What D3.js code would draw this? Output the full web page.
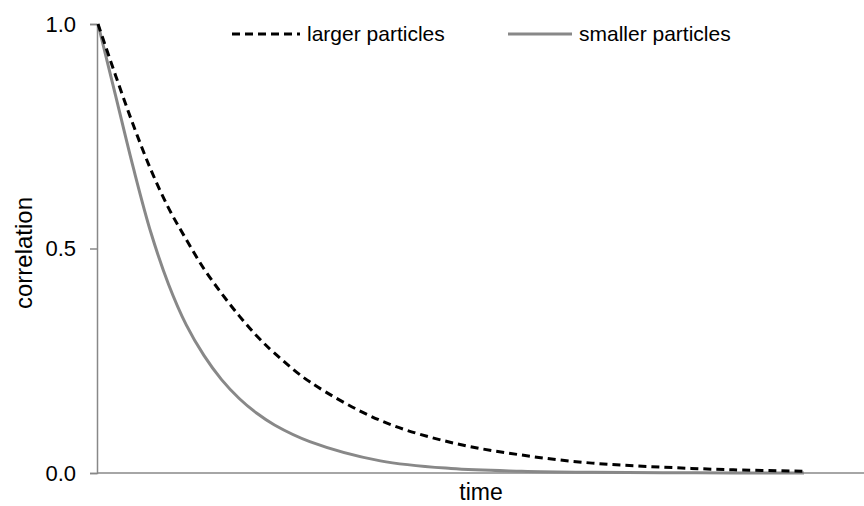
<!DOCTYPE html>
<html>
<head>
<meta charset="utf-8">
<script src="https://d3js.org/d3.v7.min.js"></script>
<style>
  body { margin: 0; background: #fff; }
  text { font-family: "Liberation Sans", Arial, sans-serif; }
</style>
</head>
<body>
<script>
// values (time in arbitrary units)
const time = [0, 0.25, 0.5, 0.75, 1, 1.25, 1.5, 1.75, 2, 2.25, 2.5, 3, 4, 5, 6, 7, 8, 9, 10];
const larger = [1.0, 0.885, 0.775, 0.675, 0.59, 0.52, 0.455, 0.4, 0.35, 0.305, 0.267, 0.203, 0.117, 0.068, 0.04, 0.022, 0.013, 0.007, 0.004];
const smaller = [1.0, 0.84, 0.68, 0.535, 0.42, 0.33, 0.262, 0.208, 0.166, 0.133, 0.107, 0.07, 0.027, 0.01, 0.004, 0.0015, 0.0005, 0.0002, 0.0];
const yTicks = [0, 0.5, 1];
const seriesNames = ["larger particles", "smaller particles"];

const width = 864, height = 506;

const svg = d3.select("body")
  .append("svg")
  .attr("width", width)
  .attr("height", height);

const x = d3.scaleLinear().domain([0, 10]).range([98, 804]);
const y = d3.scaleLinear().domain([0, 1]).range([473, 24]);

// y axis
const yAxis = svg.append("g")
  .attr("transform", "translate(97,0)")
  .call(d3.axisLeft(y).tickValues(yTicks).tickFormat(d3.format(".1f")).tickSize(7).tickPadding(14));
yAxis.select(".domain").attr("stroke", "#888").attr("stroke-width", 1.5);
yAxis.selectAll(".tick line").attr("stroke", "#888").attr("stroke-width", 1.5);
yAxis.selectAll(".tick text")
  .style("font-size", "22px")
  .style("font-family", "Liberation Sans, Arial, sans-serif")
  .attr("fill", "#000");

// x axis line, runs to the right edge, no ticks
svg.append("line")
  .attr("x1", 97).attr("x2", width)
  .attr("y1", y(0)).attr("y2", y(0))
  .attr("stroke", "#888")
  .attr("stroke-width", 1.5);

const line = d3.line()
  .x((d, i) => x(time[i]))
  .y(d => y(d))
  .curve(d3.curveCatmullRom.alpha(0.5));

svg.append("path")
  .datum(smaller)
  .attr("d", line)
  .attr("fill", "none")
  .attr("stroke", "#888")
  .attr("stroke-width", 3);

svg.append("path")
  .datum(larger)
  .attr("d", line)
  .attr("fill", "none")
  .attr("stroke", "#000")
  .attr("stroke-width", 3)
  .attr("stroke-dasharray", "8,5");

// legend
const legend = [
  { name: seriesNames[0], x1: 232, x2: 300, color: "#000", dash: "8,5" },
  { name: seriesNames[1], x1: 508, x2: 572, color: "#888", dash: null }
];
const lg = svg.selectAll(".legend")
  .data(legend)
  .enter()
  .append("g")
  .attr("class", "legend");
lg.append("line")
  .attr("x1", d => d.x1).attr("x2", d => d.x2)
  .attr("y1", 34).attr("y2", 34)
  .attr("stroke", d => d.color)
  .attr("stroke-width", 3)
  .attr("stroke-dasharray", d => d.dash);
lg.append("text")
  .attr("x", d => d.x2 + 7)
  .attr("y", 41)
  .style("font-size", "21px")
  .text(d => d.name);

// axis titles
svg.append("text")
  .attr("x", 481)
  .attr("y", 500)
  .attr("text-anchor", "middle")
  .style("font-size", "23px")
  .text("time");

svg.append("text")
  .attr("transform", "translate(32,253) rotate(-90)")
  .attr("text-anchor", "middle")
  .style("font-size", "24px")
  .text("correlation");
</script>
</body>
</html>
